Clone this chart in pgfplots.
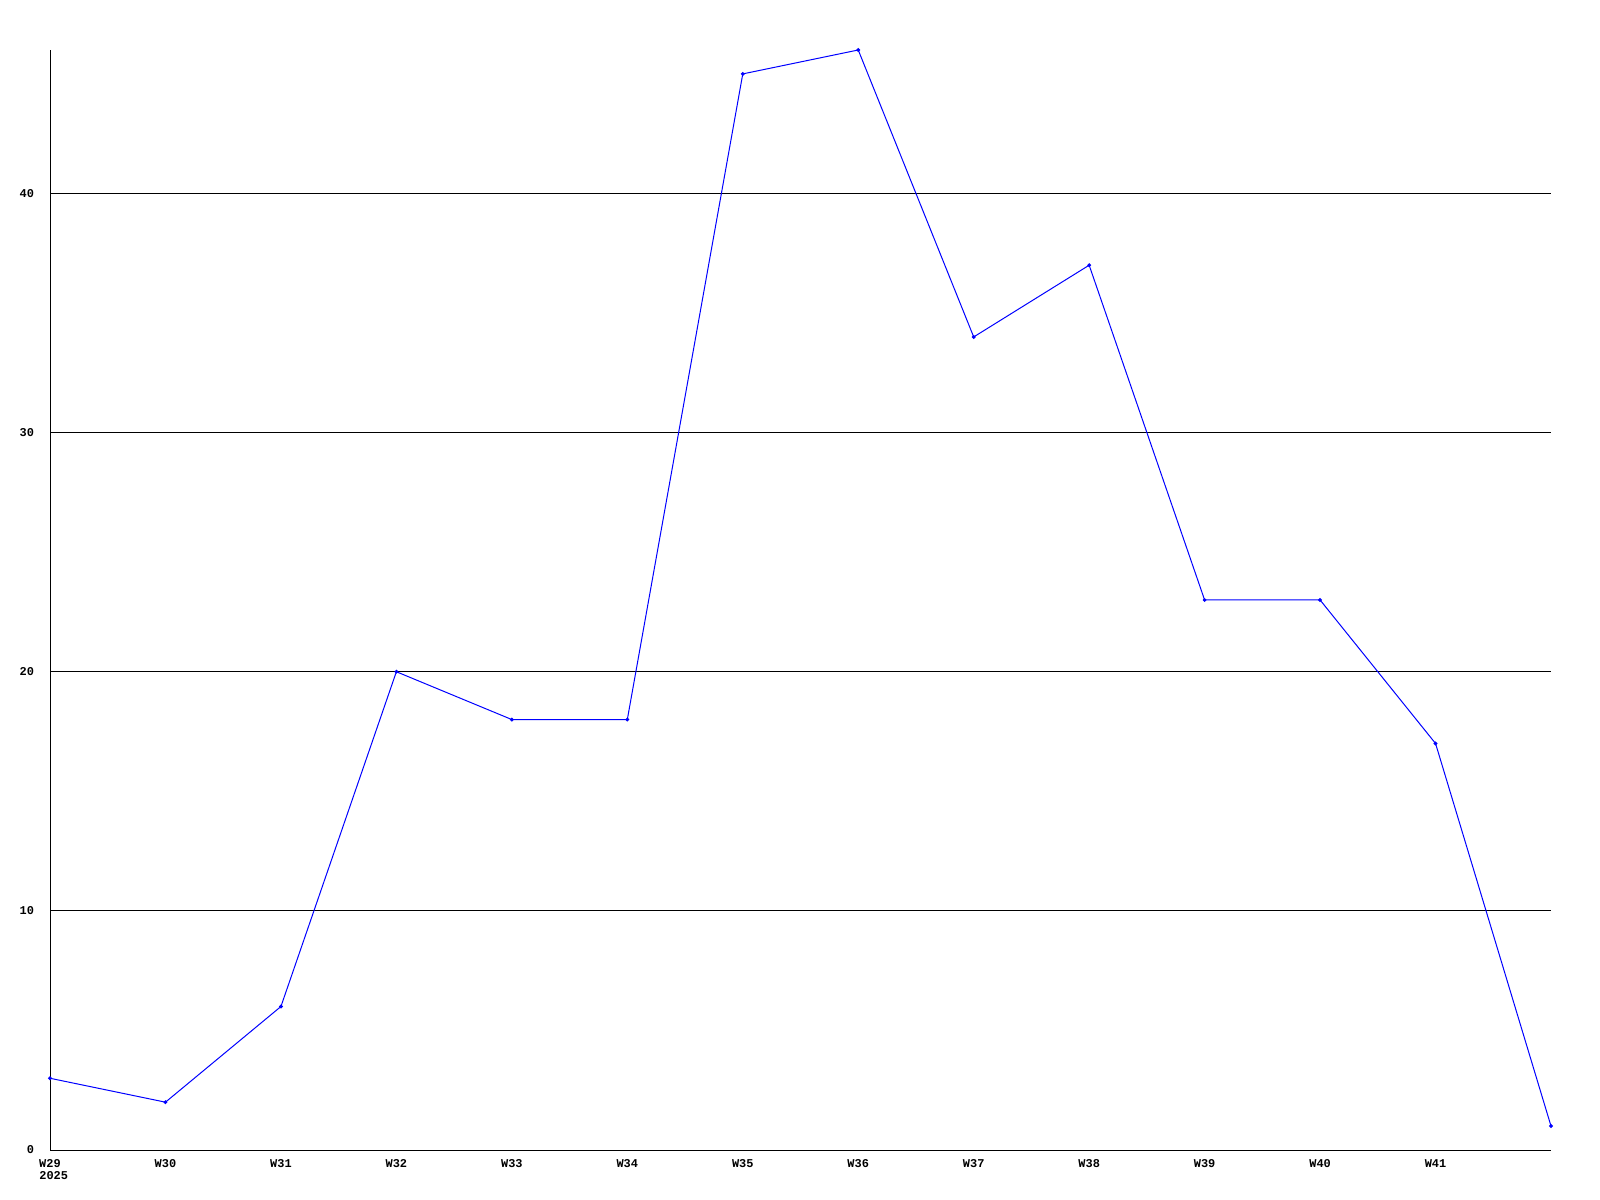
\documentclass[border=0pt]{standalone}
\usepackage{pgfplots}
\pgfplotsset{compat=1.18}
\usepackage{fontspec}
\setmainfont{Liberation Mono}
\begin{document}
\begin{tikzpicture}
\begin{axis}[
  scale only axis,
  width=750.5bp, height=550bp,
  xmin=0, xmax=13, ymin=0, ymax=46,
  axis x line=bottom, axis y line=left,
  axis line style={-, black, line width=0.5bp},
  xtick={0,1,2,3,4,5,6,7,8,9,10,11,12},
  xticklabels={W29,W30,W31,W32,W33,W34,W35,W36,W37,W38,W39,W40,W41},
  ytick={0,10,20,30,40},
  ymajorgrids,
  major grid style={black, line width=0.5bp},
  major tick length=0pt,
  tick label style={font=\fontsize{6}{7}\selectfont\bfseries},
  /pgf/number format/assume math mode=true,
  yticklabel style={xshift=-4.5bp},
  xticklabel style={yshift=-1bp, text height=4.2bp, text depth=0.3bp},
  clip=false,
]
\addplot[blue, line width=0.5bp, mark=*, mark size=0.7bp, mark options={fill=blue, draw=blue}] coordinates {
(0,3) (1,2) (2,6) (3,20) (4,18) (5,18) (6,45) (7,46) (8,34) (9,37) (10,23) (11,23) (12,17) (13,1)
};
\node[anchor=north west, inner sep=0pt, font=\fontsize{6}{7}\selectfont\bfseries] at ([xshift=-5.5bp, yshift=-10.5bp]axis cs:0,0) {2025};
\end{axis}
\pgfresetboundingbox
\path[use as bounding box] ([shift={(-25bp,-25bp)}]current axis.south west) rectangle ([shift={(24.5bp,25bp)}]current axis.north east);
\end{tikzpicture}
\end{document}
